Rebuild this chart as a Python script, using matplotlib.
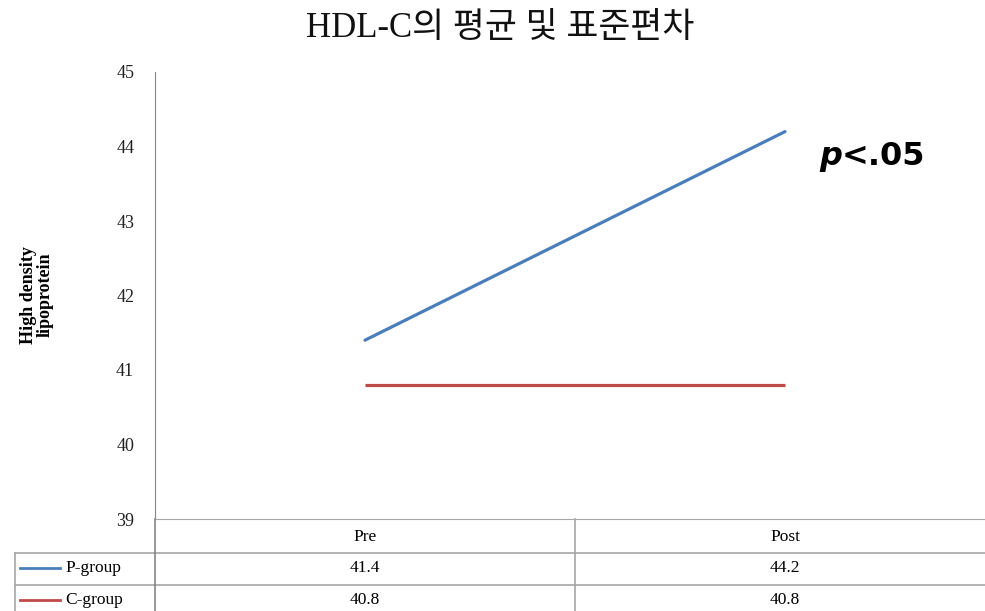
import matplotlib
matplotlib.use("Agg")
import matplotlib.pyplot as plt
from matplotlib.lines import Line2D

categories = ["Pre", "Post"]
series_names = ["P-group", "C-group"]
p_group = [41.4, 44.2]
c_group = [40.8, 40.8]
y_ticks = [39, 40, 41, 42, 43, 44, 45]
title = "HDL-C의 평균 및 표준편차"
y_label = "High density\nlipoprotein"
colors = ["#4A7EBB", "#BE4B48"]

W, H = 985, 611
fig = plt.figure(figsize=(W / 100, H / 100), dpi=100)

# axes in pixel geometry: x 155..995, y 72..519
ax_l, ax_r, ax_t, ax_b = 155, 995, 72, 519
ax = fig.add_axes([ax_l / W, (H - ax_b) / H, (ax_r - ax_l) / W, (ax_b - ax_t) / H])
ax.set_xlim(-0.5, 1.5)
ax.set_ylim(39, 45)

serif = ["Liberation Serif", "Noto Sans CJK KR"]
grid_col = "#A6A6A6"

x = list(range(len(categories)))
ax.plot(x, p_group, color=colors[0], lw=2.3, solid_capstyle="round")
ax.plot(x, c_group, color=colors[1], lw=2.3, solid_capstyle="butt")

for s in ["top", "right"]:
    ax.spines[s].set_visible(False)
ax.spines["left"].set_color("#868686")
ax.spines["bottom"].set_color(grid_col)
ax.set_yticks(y_ticks)
ax.set_yticklabels([str(t) for t in y_ticks], family=serif, fontsize=13, color="#222222")
ax.tick_params(axis="y", length=0, pad=15)
ax.set_xticks([])

# Title
fig.text(0.508, 1 - 28 / H, title, ha="center", va="center", fontsize=25,
         family=["Liberation Serif", "Noto Sans CJK KR"], color="#111111")

# Y label
fig.text(37 / W, 1 - 295 / H, y_label, rotation=90, ha="center", va="center",
         fontsize=13, fontweight="bold", family=serif, linespacing=1.0)

# p<.05 annotation
ax.text(1.135, 43.86, "p", ha="right", va="center", fontsize=23, fontweight="bold",
        fontstyle="italic", family="DejaVu Sans")
ax.text(1.135, 43.86, "<.05", ha="left", va="center", fontsize=23, fontweight="bold",
        family="DejaVu Sans")

# Data table below the axes (pixel rows)
def fx(px):
    return px / W

def fy(py):
    return 1 - py / H

row_y = [519, 553, 585, 617]
col_x = [15, 155, 575, 995]
lw_t = 1.2
for yy in row_y[1:3]:
    fig.add_artist(Line2D([fx(col_x[0]), fx(col_x[3])], [fy(yy), fy(yy)], color=grid_col, lw=lw_t))
fig.add_artist(Line2D([fx(col_x[0]), fx(col_x[0])], [fy(row_y[1]), fy(row_y[3])], color=grid_col, lw=lw_t))
fig.add_artist(Line2D([fx(col_x[1]), fx(col_x[1])], [fy(row_y[0]), fy(row_y[3])], color="#868686", lw=lw_t))
fig.add_artist(Line2D([fx(col_x[2]), fx(col_x[2])], [fy(row_y[0]), fy(row_y[3])], color=grid_col, lw=lw_t))

for j, cat in enumerate(categories):
    cx = (col_x[j + 1] + col_x[j + 2]) / 2
    fig.text(fx(cx), fy(537), cat, ha="center", va="center", fontsize=12.5, family=serif)

for i, (name, vals) in enumerate(zip(series_names, [p_group, c_group])):
    cy = [568, 600][i]
    fig.add_artist(Line2D([fx(20), fx(60)], [fy(cy), fy(cy)], color=colors[i], lw=2))
    fig.text(fx(65), fy(cy), name, ha="left", va="center", fontsize=12.5, family=serif)
    for j, v in enumerate(vals):
        cx = (col_x[j + 1] + col_x[j + 2]) / 2
        fig.text(fx(cx), fy(cy), f"{v:.1f}", ha="center", va="center", fontsize=12.5, family=serif)

fig.savefig("out.png", dpi=100)
